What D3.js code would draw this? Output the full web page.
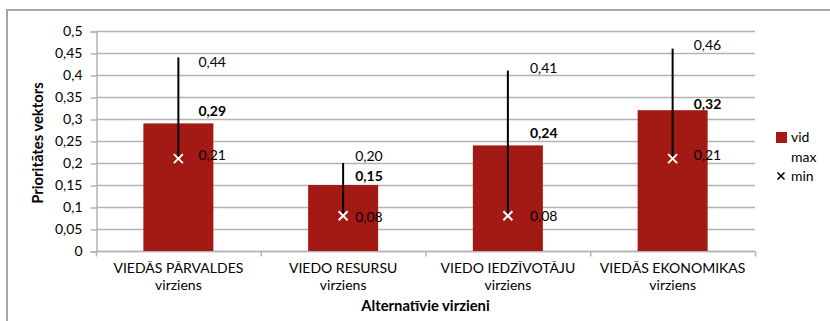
<!DOCTYPE html>
<html>
<head>
<meta charset="utf-8">
<script src="https://cdn.jsdelivr.net/npm/d3@7"></script>
<style>
  html, body { margin: 0; padding: 0; background: #fff; }
  svg { display: block; font-family: Lato, "Open Sans", sans-serif; }
</style>
</head>
<body>
<svg id="chart" width="830" height="321"></svg>
<script>
// Alternative directions with average, maximum and minimum priority vectors
const categories = [
  ["VIEDĀS PĀRVALDES", "virziens"],
  ["VIEDO RESURSU", "virziens"],
  ["VIEDO IEDZĪVOTĀJU", "virziens"],
  ["VIEDĀS EKONOMIKAS", "virziens"]
];
const vid = [0.29, 0.15, 0.24, 0.32];
const maxVals = [0.44, 0.20, 0.41, 0.46];
const minVals = [0.21, 0.08, 0.08, 0.21];
const yTicks = [0, 0.05, 0.1, 0.15, 0.2, 0.25, 0.3, 0.35, 0.4, 0.45, 0.5];
const legendItems = ["vid", "max", "min"];

const fmt = v => String(v).replace(".", ",");
const fmt2 = v => v.toFixed(2).replace(".", ",");

const svg = d3.select("#chart");
const barColor = "#a31a15";
const gridColor = "#b3b3b3";
const fontSize = "14px";
const titleSize = "14.8px";
const fontFamily = "Lato, 'Open Sans', sans-serif";

// hand-placed label nudges (x from the range line, y from the value)
const labelDx = [20, 12, 22, 21];
const maxDy = [4.5, -6.5, -3, -3.5];
const vidDy = [-12.5, -9, -12, -6];
const minDy = [-3.5, 1, 0.5, -3.5];

// outer frame (only top and left edges fall inside the view)
svg.append("path")
  .attr("d", "M7,321 V10 H830")
  .attr("fill", "none")
  .attr("stroke", "#a6a6a6")
  .attr("stroke-width", 2);

const plot = { left: 96, right: 755, top: 31, bottom: 251 };

const x = d3.scaleBand()
  .domain(d3.range(categories.length))
  .range([plot.left, plot.right])
  .paddingInner(0.575)
  .paddingOuter(0.2875);

const y = d3.scaleLinear().domain([0, 0.5]).range([plot.bottom, plot.top]);

// horizontal gridlines
svg.append("g")
  .selectAll("line")
  .data(yTicks)
  .join("line")
  .attr("x1", plot.left).attr("x2", plot.right)
  .attr("y1", d => Math.round(y(d)) + 0.5)
  .attr("y2", d => Math.round(y(d)) + 0.5)
  .attr("stroke", gridColor)
  .attr("stroke-width", 1.5);

// y axis
const yAxis = svg.append("g")
  .attr("transform", `translate(${plot.left + 0.5},0.5)`)
  .call(d3.axisLeft(y).tickValues(yTicks).tickFormat(fmt).tickSizeOuter(0).tickSize(6).tickPadding(8));
yAxis.select(".domain").attr("stroke", gridColor).attr("stroke-width", 1.5);
yAxis.selectAll(".tick line").attr("stroke", gridColor).attr("stroke-width", 1.5);
yAxis.selectAll(".tick text")
  .attr("fill", "#000").style("font-size", fontSize).style("font-family", fontFamily);

// x axis baseline with category ticks
const xAxis = svg.append("g")
  .attr("transform", `translate(0,${Math.round(y(0)) + 0.5})`);
xAxis.append("line")
  .attr("x1", plot.left).attr("x2", plot.right)
  .attr("stroke", gridColor).attr("stroke-width", 1.5);
xAxis.selectAll("line.tick")
  .data(d3.range(categories.length + 1))
  .join("line")
  .attr("class", "tick")
  .attr("x1", i => plot.left + 0.5 + i * (plot.right - plot.left) / categories.length)
  .attr("x2", i => plot.left + 0.5 + i * (plot.right - plot.left) / categories.length)
  .attr("y1", 0).attr("y2", 5)
  .attr("stroke", gridColor).attr("stroke-width", 1.5);

// category labels, two lines each
const catGroups = svg.append("g")
  .selectAll("g")
  .data(categories)
  .join("g")
  .attr("transform", (d, i) => `translate(${x(i) + x.bandwidth() / 2},0)`);
catGroups.append("text")
  .attr("y", 273)
  .attr("text-anchor", "middle")
  .style("font-size", fontSize)
  .text(d => d[0]);
catGroups.append("text")
  .attr("y", 290)
  .attr("text-anchor", "middle")
  .style("font-size", fontSize)
  .text(d => d[1]);

// bars (vid)
svg.append("g")
  .selectAll("rect")
  .data(vid)
  .join("rect")
  .attr("x", (d, i) => x(i))
  .attr("width", x.bandwidth())
  .attr("y", d => y(d))
  .attr("height", d => y(0) - y(d))
  .attr("fill", barColor);

const cx = i => x(i) + x.bandwidth() / 2;

// max–min range lines
svg.append("g")
  .selectAll("line")
  .data(d3.range(categories.length))
  .join("line")
  .attr("x1", i => cx(i)).attr("x2", i => cx(i))
  .attr("y1", i => y(maxVals[i]))
  .attr("y2", i => y(minVals[i]))
  .attr("stroke", "#000")
  .attr("stroke-width", 2);

// min markers
const cross = (g, color, size, width) => {
  g.append("path")
    .attr("d", `M${-size},${-size}L${size},${size}M${-size},${size}L${size},${-size}`)
    .attr("stroke", color)
    .attr("stroke-width", width);
};
svg.append("g")
  .selectAll("g")
  .data(minVals)
  .join("g")
  .attr("transform", (d, i) => `translate(${cx(i)},${y(d)})`)
  .each(function () { cross(d3.select(this), "#fff", 4.5, 2); });

// value labels
const labelGroup = svg.append("g").style("font-size", fontSize).attr("fill", "#000");
labelGroup.selectAll("text.max")
  .data(maxVals)
  .join("text")
  .attr("class", "max")
  .attr("x", (d, i) => cx(i) + labelDx[i])
  .attr("y", (d, i) => y(d) + maxDy[i])
  .attr("dy", "0.35em")
  .text(fmt2);
labelGroup.selectAll("text.vid")
  .data(vid)
  .join("text")
  .attr("class", "vid")
  .attr("x", (d, i) => cx(i) + labelDx[i])
  .attr("y", (d, i) => y(d) + vidDy[i])
  .attr("dy", "0.35em")
  .style("font-weight", "bold")
  .text(fmt2);
labelGroup.selectAll("text.min")
  .data(minVals)
  .join("text")
  .attr("class", "min")
  .attr("x", (d, i) => cx(i) + labelDx[i])
  .attr("y", (d, i) => y(d) + minDy[i])
  .attr("dy", "0.35em")
  .text(fmt2);

// axis titles
svg.append("text")
  .attr("transform", `translate(43,${(plot.top + plot.bottom) / 2 + 2}) rotate(-90)`)
  .attr("text-anchor", "middle")
  .style("font-size", titleSize)
  .style("font-weight", "bold")
  .text("Prioritātes vektors");
svg.append("text")
  .attr("x", (plot.left + plot.right) / 2)
  .attr("y", 311)
  .attr("text-anchor", "middle")
  .style("font-size", titleSize)
  .style("font-weight", "bold")
  .text("Alternatīvie virzieni");

// legend
const legend = svg.append("g").attr("transform", "translate(776,0)");
const rowY = [137.5, 157, 176];
legendItems.forEach((name, i) => {
  const row = legend.append("g").attr("transform", `translate(0,${rowY[i]})`);
  if (name === "vid") {
    row.append("rect").attr("x", 0).attr("y", -5.5).attr("width", 11).attr("height", 11).attr("fill", barColor);
  } else if (name === "min") {
    const g = row.append("g").attr("transform", "translate(5,0)");
    cross(g, "#000", 3.5, 1.6);
  }
  row.append("text")
    .attr("x", 15)
    .attr("y", 0)
    .attr("dy", "0.35em")
    .style("font-size", fontSize)
    .text(name);
});
</script>
</body>
</html>
